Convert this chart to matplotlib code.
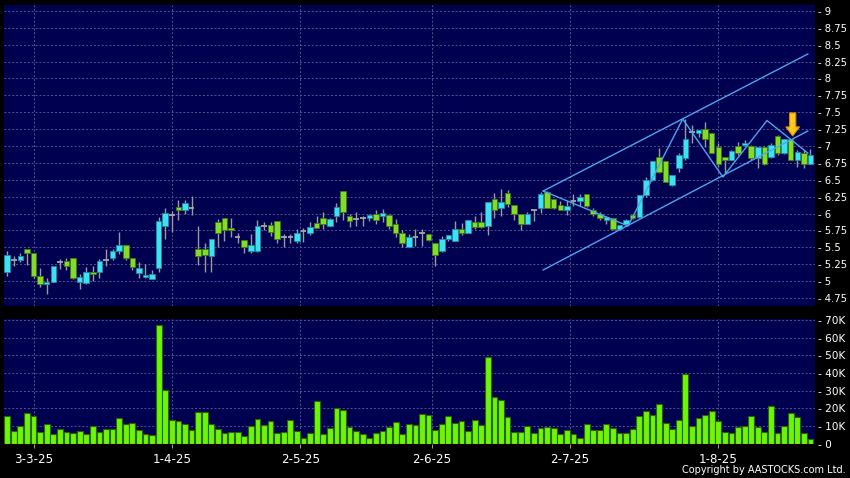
import matplotlib
matplotlib.use("Agg")
import matplotlib.pyplot as plt
import numpy as np
from matplotlib.patches import Rectangle, FancyArrow

# ---------------- data ----------------
opens = [5.14, 5.31, 5.31, 5.48, 5.42, 5.07, 4.96, 4.99, 5.29, 5.30,
         5.34, 4.99, 4.97, 5.13, 5.13, 5.31, 5.34, 5.44, 5.54, 5.35,
         5.12, 5.06, 5.03, 5.19, 5.81, 5.98, 6.10, 6.05, 6.08, 5.47,
         5.47, 5.38, 5.88, 5.94, 5.78, 5.66, 5.61, 5.44, 5.44, 5.82,
         5.83, 5.89, 5.65, 5.66, 5.59, 5.74, 5.71, 5.86, 5.93, 5.82,
         5.96, 6.33, 5.96, 5.92, 5.93, 5.93, 6.00, 5.96, 5.98, 5.85,
         5.71, 5.51, 5.66, 5.72, 5.70, 5.56, 5.44, 5.63, 5.60, 5.77,
         5.72, 5.88, 5.88, 5.81, 6.22, 6.09, 6.31, 6.12, 5.99, 5.85,
         6.06, 6.09, 6.32, 6.21, 6.13, 6.06, 6.18, 6.18, 6.29, 6.06,
         6.00, 5.91, 5.94, 5.77, 5.84, 5.98, 5.95, 6.28, 6.50, 6.84,
         6.78, 6.42, 6.67, 6.82, 7.20, 7.19, 7.25, 7.19, 6.98, 6.84,
         6.80, 7.00, 7.02, 7.00, 6.82, 6.99, 6.84, 7.15, 6.89, 7.11,
         6.80, 6.90, 6.74]
highs = [5.45, 5.37, 5.42, 5.48, 5.42, 5.20, 5.04, 5.22, 5.33, 5.34,
         5.34, 5.11, 5.21, 5.22, 5.33, 5.48, 5.48, 5.73, 5.54, 5.35,
         5.28, 5.26, 5.16, 5.95, 6.08, 6.04, 6.20, 6.20, 6.26, 5.81,
         5.57, 5.63, 5.92, 5.94, 5.93, 5.72, 5.61, 5.70, 5.91, 5.87,
         5.87, 5.89, 5.70, 5.70, 5.77, 5.78, 5.87, 5.96, 6.02, 5.93,
         6.15, 6.33, 6.00, 6.03, 5.96, 5.99, 6.06, 6.07, 6.00, 5.92,
         5.75, 5.70, 5.77, 5.77, 5.70, 5.56, 5.67, 5.69, 5.89, 5.86,
         5.90, 5.96, 6.03, 6.17, 6.31, 6.37, 6.35, 6.12, 5.99, 6.03,
         6.06, 6.32, 6.34, 6.22, 6.18, 6.18, 6.29, 6.29, 6.29, 6.08,
         6.03, 5.97, 5.94, 5.83, 5.92, 6.00, 6.28, 6.54, 6.78, 6.97,
         6.78, 6.57, 6.89, 7.40, 7.31, 7.24, 7.36, 7.19, 7.04, 6.84,
         6.94, 7.06, 7.09, 7.02, 6.99, 7.00, 7.05, 7.16, 7.11, 7.11,
         6.94, 6.94, 6.95]
lows = [5.07, 5.22, 5.28, 5.24, 5.04, 4.91, 4.81, 4.99, 5.18, 5.16,
        5.03, 4.88, 4.96, 5.00, 5.04, 5.22, 5.31, 5.40, 5.32, 5.17,
        5.04, 5.04, 5.03, 5.13, 5.62, 5.73, 5.91, 5.99, 5.98, 5.24,
        5.13, 5.13, 5.50, 5.60, 5.65, 5.57, 5.42, 5.42, 5.43, 5.75,
        5.67, 5.56, 5.50, 5.57, 5.57, 5.58, 5.68, 5.78, 5.77, 5.81,
        5.88, 5.91, 5.80, 5.82, 5.82, 5.89, 5.84, 5.87, 5.77, 5.66,
        5.51, 5.50, 5.52, 5.52, 5.60, 5.23, 5.43, 5.60, 5.60, 5.69,
        5.71, 5.77, 5.79, 5.68, 5.94, 5.96, 6.10, 5.90, 5.76, 5.84,
        5.89, 6.01, 6.09, 6.07, 6.06, 5.98, 6.11, 6.11, 6.10, 5.96,
        5.90, 5.84, 5.76, 5.75, 5.82, 5.92, 5.93, 6.25, 6.48, 6.60,
        6.47, 6.41, 6.62, 6.79, 7.05, 7.14, 6.99, 6.89, 6.69, 6.60,
        6.79, 6.87, 7.00, 6.80, 6.67, 6.72, 6.82, 6.87, 6.88, 6.79,
        6.69, 6.67, 6.73]
closes = [5.39, 5.31, 5.38, 5.41, 5.07, 4.96, 4.99, 5.22, 5.29, 5.22,
          5.04, 5.06, 5.13, 5.10, 5.30, 5.31, 5.44, 5.54, 5.34, 5.21,
          5.20, 5.09, 5.10, 5.89, 6.01, 5.98, 6.05, 6.16, 6.08, 5.38,
          5.39, 5.63, 5.72, 5.76, 5.75, 5.66, 5.50, 5.54, 5.81, 5.82,
          5.73, 5.63, 5.65, 5.66, 5.72, 5.74, 5.80, 5.79, 5.85, 5.92,
          6.10, 6.02, 5.89, 5.92, 5.93, 5.98, 5.91, 6.01, 5.82, 5.72,
          5.56, 5.66, 5.66, 5.72, 5.61, 5.39, 5.63, 5.69, 5.77, 5.71,
          5.90, 5.80, 5.80, 6.17, 6.06, 6.17, 6.14, 5.99, 5.85, 5.99,
          6.06, 6.29, 6.09, 6.08, 6.06, 6.11, 6.18, 6.24, 6.11, 5.99,
          5.94, 5.95, 5.77, 5.83, 5.90, 5.93, 6.28, 6.50, 6.78, 6.62,
          6.47, 6.57, 6.87, 7.11, 7.20, 7.24, 7.11, 6.90, 6.74, 6.80,
          6.92, 6.89, 7.05, 6.82, 6.99, 6.74, 7.01, 6.89, 7.10, 6.80,
          6.91, 6.74, 6.87]
volumes_k = [15.8, 7.2, 10.0, 17.5, 15.7, 6.8, 10.9, 5.3, 8.1, 6.4,
             5.7, 7.2, 5.3, 9.8, 6.4, 8.5, 8.3, 14.7, 10.9, 11.9,
             7.5, 5.3, 4.9, 67.2, 30.6, 13.2, 12.5, 11.3, 7.7, 18.1,
             18.1, 11.3, 8.3, 6.2, 6.8, 6.4, 4.2, 9.8, 14.0, 10.6,
             12.6, 5.8, 6.6, 13.2, 7.0, 3.2, 6.0, 24.3, 5.3, 8.7,
             20.0, 18.9, 9.6, 7.0, 5.3, 3.2, 6.2, 7.2, 9.2, 12.1,
             5.3, 10.9, 10.6, 17.0, 16.2, 7.7, 10.9, 15.7, 11.9, 12.8,
             7.0, 13.2, 10.6, 49.2, 26.2, 24.5, 14.9, 6.6, 6.8, 9.8,
             6.0, 8.7, 9.2, 8.7, 5.5, 7.4, 5.5, 3.4, 10.9, 7.7,
             7.7, 11.3, 8.7, 5.7, 5.8, 8.3, 15.5, 18.7, 16.2, 22.6,
             11.9, 8.1, 13.6, 39.4, 10.2, 14.7, 16.2, 18.3, 13.0, 6.4,
             5.7, 9.6, 10.0, 15.8, 9.1, 6.8, 21.3, 6.2, 10.0, 17.5,
             14.9, 6.2, 2.3]

date_labels = ["3-3-25", "1-4-25", "2-5-25", "2-6-25", "2-7-25", "1-8-25"]
date_bar_index = [4, 25, 44.5, 64.5, 85.5, 108]

price_ticks = [4.75, 5, 5.25, 5.5, 5.75, 6, 6.25, 6.5, 6.75, 7,
               7.25, 7.5, 7.75, 8, 8.25, 8.5, 8.75, 9]
volume_ticks_k = [0, 10, 20, 30, 40, 50, 60, 70]

# drawn trend channel / zigzag (bar index, price)
channel_upper_x = [81.4, 121.6]
channel_upper_y = [6.334, 8.361]
channel_lower_x = [81.4, 121.6]
channel_lower_y = [5.166, 7.222]
zigzag_x = [81.4, 94.3, 102.6, 108.7, 115.4, 121.6]
zigzag_y = [6.334, 5.817, 7.40, 6.541, 7.377, 6.896]
signal_bar = 119.3
signal_top = 7.49
signal_tip = 7.148

# ---------------- style ----------------
NAVY = "#000050"
GRID = "#55558c"
UP = "#3fe0f2"
UP_EDGE = "#1a8ea0"
DOWN = "#84dc2a"
DOWN_EDGE = "#3f7a10"
DOJI = "#a8a8a8"
WICK = "#9a9a9a"
VOL = "#6cf50a"
VOL_EDGE = "#2c6400"
LINE = "#4aa6ee"

W, H = 850, 478
fig = plt.figure(figsize=(W / 100, H / 100), dpi=100, facecolor="black")
ax = fig.add_axes([4 / W, (H - 306) / H, 811 / W, 301 / H], facecolor=NAVY)
axv = fig.add_axes([4 / W, (H - 443.5) / H, 811 / W, 124.5 / H], facecolor=NAVY)

n = len(closes)
x = np.arange(n)
xlim = (-0.49, 122.69)

# candles
bw = 0.84
for i in range(n):
    o, h, l, c = opens[i], highs[i], lows[i], closes[i]
    ax.vlines(i, l, h, color=WICK, lw=1.0, zorder=3)
    if abs(c - o) < 1e-9:
        ax.hlines(o, i - bw / 2, i + bw / 2, color=DOJI, lw=1.3, zorder=4)
    else:
        fc, ec = (UP, UP_EDGE) if c > o else (DOWN, DOWN_EDGE)
        ax.add_patch(Rectangle((i - bw / 2, min(o, c)), bw, abs(c - o),
                               facecolor=fc, edgecolor=ec, lw=0.6, zorder=4))

# trend lines
ax.plot(channel_upper_x, channel_upper_y, color=LINE, lw=1.0, zorder=5)
ax.plot(channel_lower_x, channel_lower_y, color=LINE, lw=1.0, zorder=5)
ax.plot(zigzag_x, zigzag_y, color=LINE, lw=1.0, zorder=5)

# signal arrow
ax.add_patch(FancyArrow(signal_bar, signal_top, 0, signal_tip - signal_top,
                        width=0.95, head_width=2.1, head_length=0.135,
                        length_includes_head=True, facecolor="#ffc81e",
                        edgecolor="#d08a00", lw=0.8, zorder=6))

ax.set_xlim(*xlim)
ax.set_ylim(4.633, 9.086)
ax.set_xticks(date_bar_index)
ax.tick_params(axis="x", length=0, labelbottom=False)
ax.yaxis.tick_right()
ax.set_yticks(price_ticks)
ax.set_yticklabels([f"- {v:g}" for v in price_ticks])
ax.tick_params(axis="y", length=0, pad=2.2, labelsize=7.2, labelcolor="white")
ax.grid(True, color=GRID, lw=0.7, linestyle=(0, (2, 2)), zorder=0)
ax.set_axisbelow(True)
for s in ax.spines.values():
    s.set_visible(False)

# volume
axv.bar(x, np.array(volumes_k) * 1000, width=0.88, color=VOL,
        edgecolor=VOL_EDGE, lw=0.8, zorder=3)
axv.set_xlim(*xlim)
axv.set_ylim(0, 70570)
axv.set_xticks(date_bar_index)
axv.set_xticklabels(date_labels)
axv.tick_params(axis="x", length=3, width=0.8, color="#9a9a9a", pad=4,
                labelsize=8.6, labelcolor="white")
axv.yaxis.tick_right()
axv.set_yticks([v * 1000 for v in volume_ticks_k])
axv.set_yticklabels([f"- {v}K" if v else "- 0" for v in volume_ticks_k])
axv.tick_params(axis="y", length=0, pad=2.2, labelsize=7.6, labelcolor="white")
axv.grid(True, color=GRID, lw=0.7, linestyle=(0, (2, 2)), zorder=0)
axv.set_axisbelow(True)
for s in axv.spines.values():
    s.set_visible(False)

fig.text(846 / W, 1 - 470 / H, "Copyright by AASTOCKS.com Ltd.", ha="right",
         va="center", color="white", fontsize=7)

fig.savefig("out.png", dpi=100, facecolor="black")
